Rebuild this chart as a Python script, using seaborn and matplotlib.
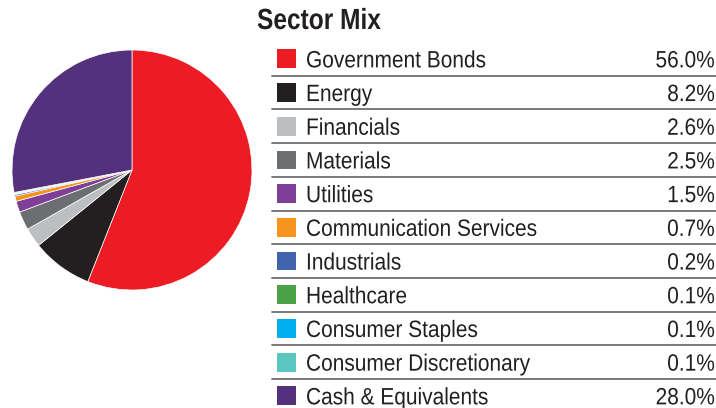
import matplotlib
matplotlib.use("Agg")
import matplotlib.pyplot as plt
import seaborn as sns
import pandas as pd
from matplotlib.patheffects import AbstractPathEffect
from matplotlib.transforms import Affine2D

# --- data -------------------------------------------------------------------
SECTORS = [
    "Government Bonds", "Energy", "Financials", "Materials", "Utilities",
    "Communication Services", "Industrials", "Healthcare", "Consumer Staples",
    "Consumer Discretionary", "Cash & Equivalents",
]
WEIGHTS = [56.0, 8.2, 2.6, 2.5, 1.5, 0.7, 0.2, 0.1, 0.1, 0.1, 28.0]
COLORS = [
    "#ed1c24", "#231f20", "#bcbec0", "#6d6e71", "#7f3f98", "#f7941d",
    "#4264ae", "#4aa146", "#00aeef", "#5bc5bf", "#54317c",
]
TITLE = "Sector Mix"


class Squeeze(AbstractPathEffect):
    """Narrow the glyphs horizontally, to imitate a condensed typeface."""

    def __init__(self, sx, right=False):
        super().__init__()
        self.sx = sx
        self.right = right

    def draw_path(self, renderer, gc, tpath, affine, rgbFace=None):
        x0 = tpath.vertices[:, 0].max() if self.right else 0
        pre = Affine2D().translate(-x0, 0).scale(self.sx, 1).translate(x0, 0)
        renderer.draw_path(gc, tpath, pre + affine, rgbFace)


sns.set_theme(style="white")
plt.rcParams["font.family"] = ["Liberation Sans", "DejaVu Sans"]

df = pd.DataFrame({"sector": SECTORS, "weight": WEIGHTS})
df["row"] = range(len(df))

W, H = 716, 408
fig = plt.figure(figsize=(W / 100, H / 100), dpi=100)

# --- pie --------------------------------------------------------------------
ax_pie = fig.add_axes([12 / W, (H - 290) / H, 240 / W, 240 / H])
ax_pie.pie(
    df["weight"], colors=COLORS, startangle=90, counterclock=False,
    wedgeprops={"edgecolor": "white", "linewidth": 0.5},
)
ax_pie.set_xlim(-1, 1)
ax_pie.set_ylim(-1, 1)
ax_pie.set_aspect("equal")

# --- table (pixel coordinates) ----------------------------------------------
ax = fig.add_axes([0, 0, 1, 1], facecolor="none")
ax.set_xlim(0, W)
ax.set_ylim(H, 0)
ax.axis("off")

row_top, pitch = 42, 33.7
df["y"] = row_top + pitch * (df["row"] + 0.5)

sns.scatterplot(
    data=df, x=[286.5] * len(df), y="y", hue="sector", palette=COLORS,
    marker="s", s=185, linewidth=0, legend=False, ax=ax,
)

for _, r in df.iterrows():
    ax.text(306, r["y"] + 8.5, r["sector"], fontsize=17, va="baseline",
            ha="left", color="#231f20", path_effects=[Squeeze(0.885)])
    ax.text(715, r["y"] + 8.5, f"{r['weight']:.1f}%", fontsize=17,
            va="baseline", ha="right", color="#231f20",
            path_effects=[Squeeze(0.885, right=True)])
    if r["row"] < len(df) - 1:
        ys = row_top + pitch * (r["row"] + 1)
        ax.plot([272, 716], [ys, ys], color="#6d6e71", lw=1.3)

ax.text(257, 29, TITLE, fontsize=21, fontweight="bold", va="baseline",
        ha="left", color="#231f20", path_effects=[Squeeze(0.84)])

fig.savefig("out.png", dpi=100)
